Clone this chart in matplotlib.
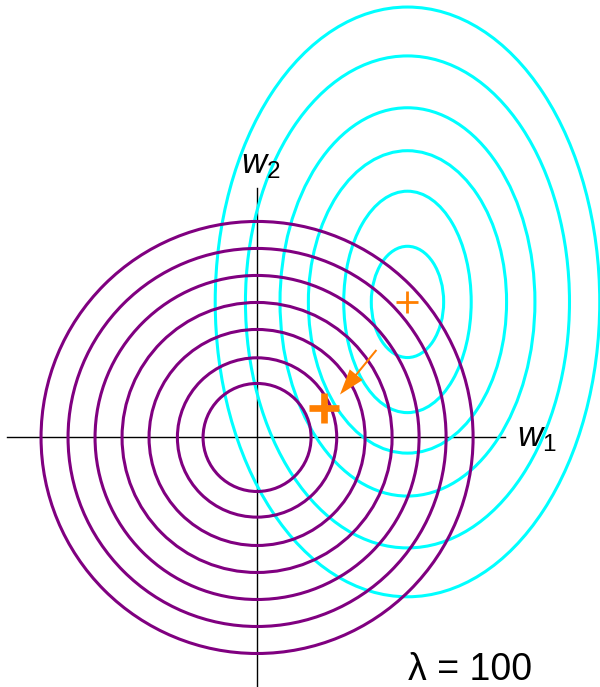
import numpy as np
import matplotlib
matplotlib.use("Agg")
import matplotlib.pyplot as plt
from matplotlib.patches import Circle, Ellipse

plt.rcParams["font.family"] = ["Liberation Sans", "DejaVu Sans"]
plt.rcParams["mathtext.fontset"] = "custom"
plt.rcParams["mathtext.rm"] = "Liberation Sans"
plt.rcParams["mathtext.it"] = "Liberation Sans:italic"

# regulariser contours (circles about the origin)
reg_radii = [2.0, 2.95, 4.0, 5.0, 6.0, 7.0, 8.0]

# data-term contours (ellipses about the unregularised optimum)
ml_center = (5.57, 5.02)
ml_semi_w = [1.34, 2.36, 3.67, 4.72, 6.0, 7.12]
ml_semi_h = [2.06, 4.1, 5.6, 7.19, 9.11, 10.92]

# regularised solution and the step towards it
map_point = (2.49, 1.10)
arrow_tail = (4.42, 3.24)
arrow_tip = (3.07, 1.59)

orange = "#ff7f00"


def main():
    fig = plt.figure(figsize=(6.0, 6.87), dpi=100)
    ax = fig.add_axes([0, 0, 1, 1])
    ax.set_xlim(-9.52, 12.70)
    ax.set_ylim(-9.24, 16.20)
    ax.set_aspect("equal")
    ax.axis("off")

    # coordinate axes
    ax.plot([-9.25, 9.2], [0, 0], color="black", lw=1.0, zorder=1)
    ax.plot([0, 0], [-9.3, 9.25], color="black", lw=1.0, zorder=1)

    for a, b in zip(ml_semi_w, ml_semi_h):
        ax.add_patch(Ellipse(ml_center, 2 * a, 2 * b, fill=False,
                             edgecolor="cyan", lw=2.2, zorder=2))
    for r in reg_radii:
        ax.add_patch(Circle((0, 0), r, fill=False,
                            edgecolor="purple", lw=2.2, zorder=3))

    ax.plot(*ml_center, marker="+", ms=15.5, mew=2.0, color=orange, zorder=5)
    ax.plot(*map_point, marker="+", ms=22, mew=4.8, color=orange, zorder=5)
    ax.arrow(arrow_tail[0], arrow_tail[1],
             arrow_tip[0] - arrow_tail[0], arrow_tip[1] - arrow_tail[1],
             width=0.075, head_width=0.62, head_length=0.95,
             length_includes_head=True, color=orange, lw=0, zorder=5)

    ax.text(9.63, -0.31, r"$w_1$", fontsize=25, ha="left", va="baseline")
    ax.text(-0.6, 9.8, r"$w_2$", fontsize=25, ha="left", va="baseline")
    ax.text(5.59, -8.98, "λ = 100", fontsize=27, ha="left", va="baseline")

    fig.savefig("out.png", dpi=100)


if __name__ == "__main__":
    main()
